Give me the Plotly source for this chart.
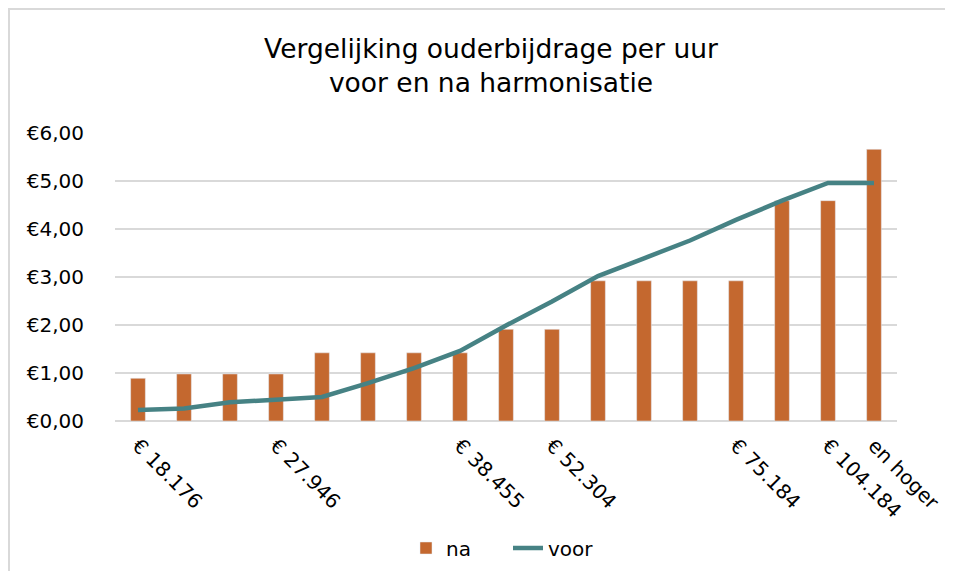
import plotly.graph_objects as go

labels = ["€ 18.176", "", "", "€ 27.946", "", "", "", "€ 38.455", "", "€ 52.304",
          "", "", "", "€ 75.184", "", "€ 104.184", "en hoger"]
na = [0.89, 0.98, 0.98, 0.98, 1.42, 1.42, 1.42, 1.42, 1.91, 1.91,
      2.92, 2.92, 2.92, 2.92, 4.59, 4.59, 5.66]
voor = [0.23, 0.26, 0.39, 0.44, 0.50, 0.79, 1.10, 1.46, 1.99, 2.49,
        3.02, 3.39, 3.76, 4.19, 4.59, 4.96, 4.96]
x = list(range(len(labels)))
tickvals = [i for i, t in enumerate(labels) if t]
ticktext = [t for t in labels if t]

FONT = "DejaVu Sans"
W, H = 937, 563
L, R, T, B = 107, 48, 125, 150
PW, PH = W - L - R, H - T - B


def px(p):
    return (p - L) / PW


def py(p):
    return (H - B - p) / PH


fig = go.Figure()
fig.add_trace(go.Bar(x=x, y=na, name="na", marker_color="#C4682F"))
fig.add_trace(go.Scatter(x=x, y=voor, name="voor", mode="lines",
                         line=dict(color="#468284", width=4.5)))

fig.update_layout(
    width=W, height=H,
    margin=dict(l=L, r=R, t=T, b=B, autoexpand=False),
    paper_bgcolor="white", plot_bgcolor="white",
    font=dict(family=FONT, color="black"),
    separators=",.",
    bargap=0.68,
    title=dict(text="Vergelijking ouderbijdrage per uur<br>voor en na harmonisatie",
               x=0.5 - 15 / PW, xref="paper", xanchor="center",
               y=1 - 49.5 / H, yref="container", yanchor="middle",
               font=dict(size=26.5, family=FONT, color="black")),
    showlegend=True,
    legend=dict(orientation="h", x=px(500), xanchor="center",
                y=(H - 540) / H, yref="container", yanchor="middle",
                entrywidth=57, entrywidthmode="pixels",
                font=dict(size=20, family=FONT, color="black")),
    shapes=[
        dict(type="line", xref="paper", yref="paper",
             x0=px(0), x1=px(W + 20), y0=py(1), y1=py(1),
             line=dict(color="#D9D9D9", width=2), layer="below"),
        dict(type="line", xref="paper", yref="paper",
             x0=px(1), x1=px(1), y0=py(0), y1=py(H + 20),
             line=dict(color="#D9D9D9", width=2), layer="below"),
    ],
)
fig.update_xaxes(range=[-0.5, 16.5], tickmode="array", tickvals=tickvals, ticktext=ticktext,
                 tickangle=45, tickfont=dict(size=20, family=FONT, color="black"),
                 showgrid=False, zeroline=False, showline=False, ticks="",
                 ticklabelstandoff=8, automargin=False, ticklabeloverflow="allow")
fig.update_yaxes(range=[0, 6], dtick=1, tickprefix="€", tickformat=".2f",
                 tickfont=dict(size=20, family=FONT, color="black"),
                 showgrid=True, gridcolor="#D9D9D9", gridwidth=1.5,
                 zeroline=True, zerolinecolor="#D9D9D9", zerolinewidth=1.5,
                 showline=False, ticks="", ticklabelstandoff=30, automargin=False)

fig.write_html("out.html")
